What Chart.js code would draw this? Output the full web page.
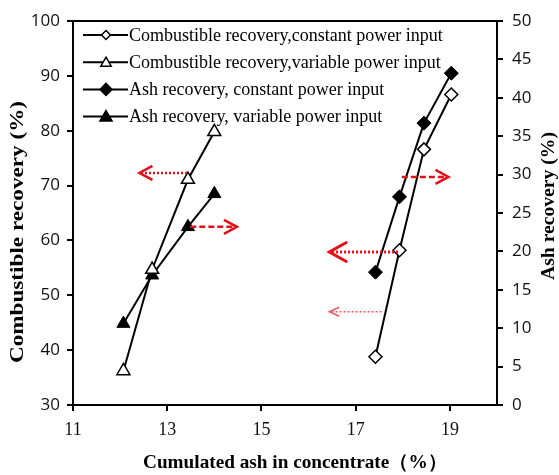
<!DOCTYPE html>
<html>
<head>
<meta charset="utf-8">
<script src="https://cdn.jsdelivr.net/npm/chart.js@4.4.0/dist/chart.umd.min.js"></script>
<style>
  body { margin: 0; background: #fff; }
</style>
</head>
<body>
<canvas id="grafica" width="559" height="475"></canvas>
<script>
// valores
const cenizaVariable = [12.07, 12.68, 13.44, 14.0]
const cenizaConstante = [17.42, 17.93, 18.45, 19.03]
const combustibleVariable = [36.2, 54.7, 71.1, 79.8]
const recCenizaVariable = [10.6, 16.9, 23.2, 27.5]
const combustibleConstante = [38.8, 58.2, 76.6, 86.6]
const recCenizaConstante = [17.3, 27.1, 36.7, 43.2]

const etiquetas = [
  'Combustible recovery,constant power input',
  'Combustible recovery,variable power input',
  'Ash recovery, constant power input',
  'Ash recovery, variable power input'
]
const ticksX = [11, 13, 15, 17, 19]

// flechas rojas (desde, hasta, nivel, eje)
const flechaDesde = [13.42, 13.49, 17.98, 17.90, 17.55]
const flechaHasta = [12.41, 14.48, 18.97, 16.44, 16.44]
const flechaNivel = [72.3, 23.2, 29.7, 57.9, 47.0]
const flechaEje = ['y', 'y2', 'y2', 'y', 'y']

const estiloFlechas = [
  { dash: [2, 2], ancho: 2.5, largo: 13, medio: 7, color: '#e3101a' },
  { dash: [6, 3], ancho: 2.5, largo: 13, medio: 7, color: '#e3101a' },
  { dash: [6, 3], ancho: 2.5, largo: 13, medio: 7, color: '#e3101a' },
  { dash: [2, 2], ancho: 3, largo: 18, medio: 10, color: '#e3101a' },
  { dash: [2, 2], ancho: 1.5, largo: 10, medio: 4.5, color: '#ec5a62' }
]

function puntos(xs, ys) {
  return xs.map((x, i) => ({ x: x, y: ys[i] }))
}

const datasets = [
  {
    label: etiquetas[0], data: puntos(cenizaConstante, combustibleConstante), yAxisID: 'y',
    pointStyle: 'rectRot', pointRadius: 6.5, backgroundColor: '#fff', borderColor: '#000',
    pointBorderWidth: 1.5, borderWidth: 2, legendRadius: 4.5
  },
  {
    label: etiquetas[1], data: puntos(cenizaVariable, combustibleVariable), yAxisID: 'y',
    pointStyle: 'triangle', pointRadius: 7.5, backgroundColor: '#fff', borderColor: '#000',
    pointBorderWidth: 1.5, borderWidth: 2, legendRadius: 6
  },
  {
    label: etiquetas[2], data: puntos(cenizaConstante, recCenizaConstante), yAxisID: 'y2',
    pointStyle: 'rectRot', pointRadius: 7, backgroundColor: '#000', borderColor: '#000',
    pointBorderWidth: 1, borderWidth: 2, legendRadius: 6
  },
  {
    label: etiquetas[3], data: puntos(cenizaVariable, recCenizaVariable), yAxisID: 'y2',
    pointStyle: 'triangle', pointRadius: 7.5, backgroundColor: '#000', borderColor: '#000',
    pointBorderWidth: 1, borderWidth: 2, legendRadius: 7
  }
]

// texto rotado y estirado a un largo dado
function textoAjustado(ctx, texto, x, y, fuente, largo, angulo) {
  ctx.save()
  ctx.font = fuente
  const w = ctx.measureText(texto).width
  ctx.translate(x, y)
  ctx.rotate(angulo)
  ctx.scale(largo / w, 1)
  ctx.fillStyle = '#000'
  ctx.textAlign = 'center'
  ctx.textBaseline = 'middle'
  ctx.fillText(texto, 0, 0)
  ctx.restore()
}

function marcador(ctx, estilo, x, y, r, relleno) {
  ctx.beginPath()
  if (estilo === 'rectRot') {
    ctx.moveTo(x, y - r); ctx.lineTo(x + r, y); ctx.lineTo(x, y + r); ctx.lineTo(x - r, y)
  } else {
    ctx.moveTo(x, y - r)
    ctx.lineTo(x + r * Math.sin(2 * Math.PI / 3), y - r * Math.cos(2 * Math.PI / 3))
    ctx.lineTo(x + r * Math.sin(4 * Math.PI / 3), y - r * Math.cos(4 * Math.PI / 3))
  }
  ctx.closePath()
  ctx.fillStyle = relleno
  ctx.fill()
  ctx.lineWidth = 1.5
  ctx.strokeStyle = '#000'
  ctx.stroke()
}

const extras = {
  id: 'extras',
  afterDraw(chart) {
    const ctx = chart.ctx
    const area = chart.chartArea
    const sx = chart.scales.x

    // borde superior
    ctx.save()
    ctx.strokeStyle = '#000'
    ctx.lineWidth = 2
    ctx.beginPath()
    ctx.moveTo(area.left - 1, area.top)
    ctx.lineTo(area.right + 1, area.top)
    ctx.stroke()
    ctx.restore()

    // flechas
    flechaDesde.forEach((desde, i) => {
      const e = estiloFlechas[i]
      const sy = chart.scales[flechaEje[i]]
      const x1 = sx.getPixelForValue(desde)
      const x2 = sx.getPixelForValue(flechaHasta[i])
      const y = sy.getPixelForValue(flechaNivel[i])
      const dir = x2 > x1 ? 1 : -1
      ctx.save()
      ctx.strokeStyle = e.color
      ctx.lineWidth = e.ancho
      ctx.setLineDash(e.dash)
      ctx.beginPath()
      ctx.moveTo(x1, y)
      ctx.lineTo(x2 - dir * 2, y)
      ctx.stroke()
      ctx.setLineDash([])
      ctx.beginPath()
      ctx.moveTo(x2 - dir * e.largo, y - e.medio)
      ctx.lineTo(x2, y)
      ctx.lineTo(x2 - dir * e.largo, y + e.medio)
      ctx.stroke()
      ctx.restore()
    })

    // leyenda
    ctx.save()
    chart.data.datasets.forEach((ds, i) => {
      const y = 35 + i * 27.2
      ctx.strokeStyle = '#000'
      ctx.lineWidth = 2
      ctx.beginPath()
      ctx.moveTo(83, y)
      ctx.lineTo(128, y)
      ctx.stroke()
      marcador(ctx, ds.pointStyle, 106, y + (ds.pointStyle === 'triangle' ? 1 : 0), ds.legendRadius, ds.backgroundColor)
      ctx.fillStyle = '#000'
      ctx.font = '18px "Liberation Serif"'
      ctx.textAlign = 'left'
      ctx.textBaseline = 'middle'
      ctx.fillText(ds.label, 129, y + 1)
    })
    ctx.restore()

    // titulos de ejes
    textoAjustado(ctx, 'Combustible recovery (%)', 18, 232, 'bold 19px "Liberation Serif"', 262, -Math.PI / 2)
    textoAjustado(ctx, 'Ash recovery (%)', 549, 206, 'bold 18px "Liberation Serif"', 148, -Math.PI / 2)
    textoAjustado(ctx, 'Cumulated ash in concentrate（%）', 295, 463, 'bold 19px "Liberation Serif"', 304, 0)
  }
}

const ejeComun = {
  grid: { display: true, drawOnChartArea: false, drawTicks: true, tickLength: 6, color: '#000', lineWidth: 2 },
  border: { display: true, color: '#000', width: 2 }
}

const config = {
  type: 'scatter',
  data: { datasets: datasets },
  options: {
    responsive: false,
    animation: false,
    devicePixelRatio: 1,
    showLine: true,
    layout: { padding: { top: 21, left: 0, right: 0, bottom: 0 } },
    plugins: { legend: { display: false }, tooltip: { enabled: false } },
    scales: {
      x: {
        ...ejeComun,
        type: 'linear', position: 'bottom', min: 11, max: 20,
        afterBuildTicks: s => { s.ticks = ticksX.map(v => ({ value: v })) },
        afterFit: s => { s.height = 70 },
        ticks: { font: { family: 'Liberation Serif', size: 18 }, color: '#111', padding: 8, maxRotation: 0 }
      },
      y: {
        ...ejeComun,
        position: 'left', min: 30, max: 100,
        afterFit: s => { s.width = 73 },
        ticks: { stepSize: 10, font: { family: 'Open Sans', size: 17 }, color: '#111', padding: 7 }
      },
      y2: {
        ...ejeComun,
        position: 'right', min: 0, max: 50,
        afterFit: s => { s.width = 62 },
        ticks: { stepSize: 5, font: { family: 'Open Sans', size: 17 }, color: '#111', padding: 9 }
      }
    }
  },
  plugins: [extras]
}

const myChart = new Chart(document.getElementById('grafica'), config)
</script>
</body>
</html>
